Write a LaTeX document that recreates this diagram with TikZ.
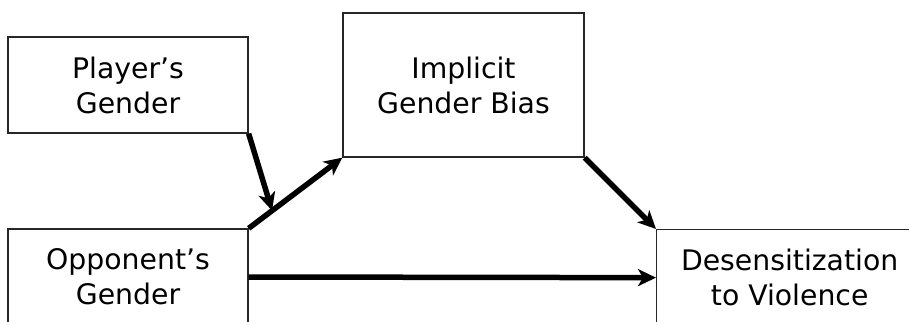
\documentclass[tikz,border=0pt]{standalone}
\usepackage{fontspec}
\setmainfont{DejaVu Sans}
\usetikzlibrary{arrows.meta,calc}
\begin{document}
\begin{tikzpicture}[x=1pt,y=1pt,
  box/.style={draw=black!85, line width=1.3pt, fill=white, inner sep=0pt, align=center,
    font=\fontsize{28.3}{35}\selectfont},
  conn/.style={line width=5.5pt, -{Stealth[length=18pt,width=17pt,inset=5pt]}}]
\useasboundingbox (0,0) rectangle (909,-321);
\clip (0,0) rectangle (909,-321);
\fill[white] (0,0) rectangle (909,-321);
\node[box, minimum width=240pt, minimum height=96pt] (player) at (128,-85) {Player’s\\Gender};
\node[box, minimum width=240pt, minimum height=96pt] (opp) at (128,-277) {Opponent’s\\Gender};
\node[box, minimum width=241pt, minimum height=144pt] (imp) at (463.5,-85) {Implicit\\Gender Bias};
\node[box, minimum width=266pt, minimum height=96pt, anchor=north west] (des) at (656,-229) {Desensitization\\to Violence};
\coordinate (mid) at ($(opp.north east)!0.25!(imp.south west)$);
\draw[conn] (opp.north east) -- (imp.south west);
\draw[conn] (player.south east) -- (mid);
\draw[conn] (imp.south east) -- (des.north west);
\draw[conn] (opp.east) -- (des.west);
\end{tikzpicture}
\end{document}
